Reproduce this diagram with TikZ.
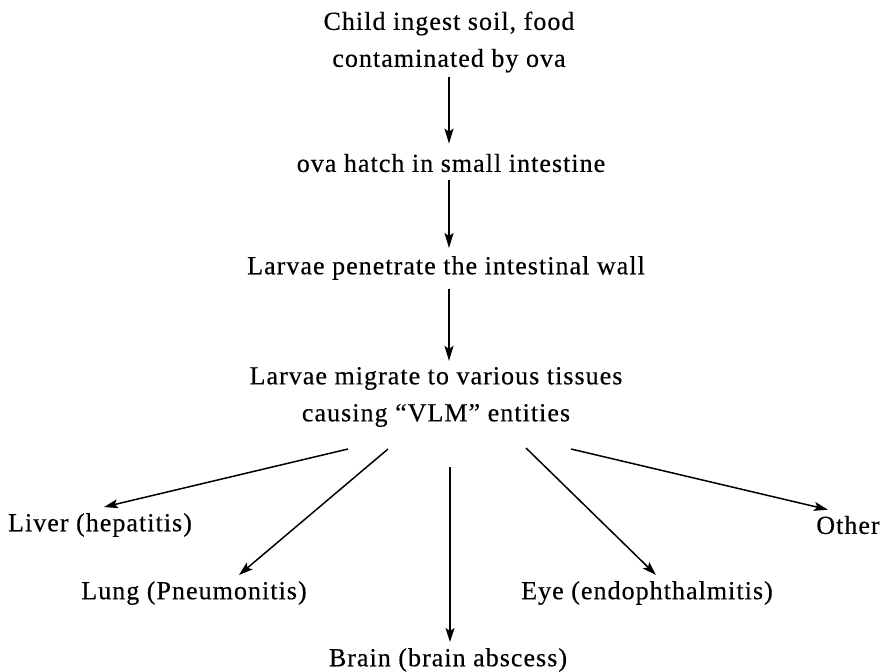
\documentclass[tikz,border=0pt]{standalone}
\usepackage{fontspec}
\setmainfont{Liberation Serif}[LetterSpace=4,FakeBold=0.4]
\usetikzlibrary{arrows.meta}
\begin{document}
\begin{tikzpicture}[x=1pt,y=-1pt,
  lbl/.style={inner sep=0pt,align=center,font=\fontsize{26}{37}\selectfont},
  arr/.style={line width=1.8pt,-{Stealth[length=15pt,width=9pt,inset=3pt]}},
  farr/.style={line width=1.5pt,-{Stealth[length=14pt,width=9pt,inset=3pt]}}]
\useasboundingbox (0,0) rectangle (881,672);
\node[lbl] (child) at (449,42) {Child ingest soil, food\\contaminated by ova};
\node[lbl] (hatch) at (451,163) {ova hatch in small intestine};
\node[lbl] (pen) at (446,268) {Larvae penetrate the intestinal wall};
\node[lbl] (mig) at (436,397) {Larvae migrate to various tissues\\causing ``VLM'' entities};
\node[lbl] (liver) at (100,525) {Liver (hepatitis)};
\node[lbl] (other) at (848,525) {Other};
\node[lbl] (lung) at (194,593) {Lung (Pneumonitis)};
\node[lbl] (eye) at (647,593) {Eye (endophthalmitis)};
\node[lbl] (brain) at (448,660) {Brain (brain abscess)};
\coordinate (s1) at (348,449);
\coordinate (s2) at (388,449);
\coordinate (s3) at (450,467);
\coordinate (s4) at (526,448);
\coordinate (s5) at (571,449);
\draw[arr] ([yshift=-4pt]child.south -| 449,0) -- ([yshift=10pt]hatch.north -| 449,0);
\draw[arr] ([yshift=-8pt]hatch.south -| 449,0) -- ([yshift=8pt]pen.north -| 449,0);
\draw[arr] ([yshift=-9pt]pen.south -| 449,0) -- ([yshift=6pt]mig.north -| 449,0);
\draw[farr] (s1) -- ([xshift=4pt,yshift=6pt]liver.north);
\draw[farr] (s2) -- ([xshift=45pt,yshift=6pt]lung.north);
\draw[farr] (s3) -- ([xshift=2pt,yshift=6pt]brain.north);
\draw[farr] (s4) -- ([xshift=9pt,yshift=6pt]eye.north);
\draw[farr] (s5) -- ([xshift=-20pt,yshift=6pt]other.north);
\end{tikzpicture}
\end{document}
